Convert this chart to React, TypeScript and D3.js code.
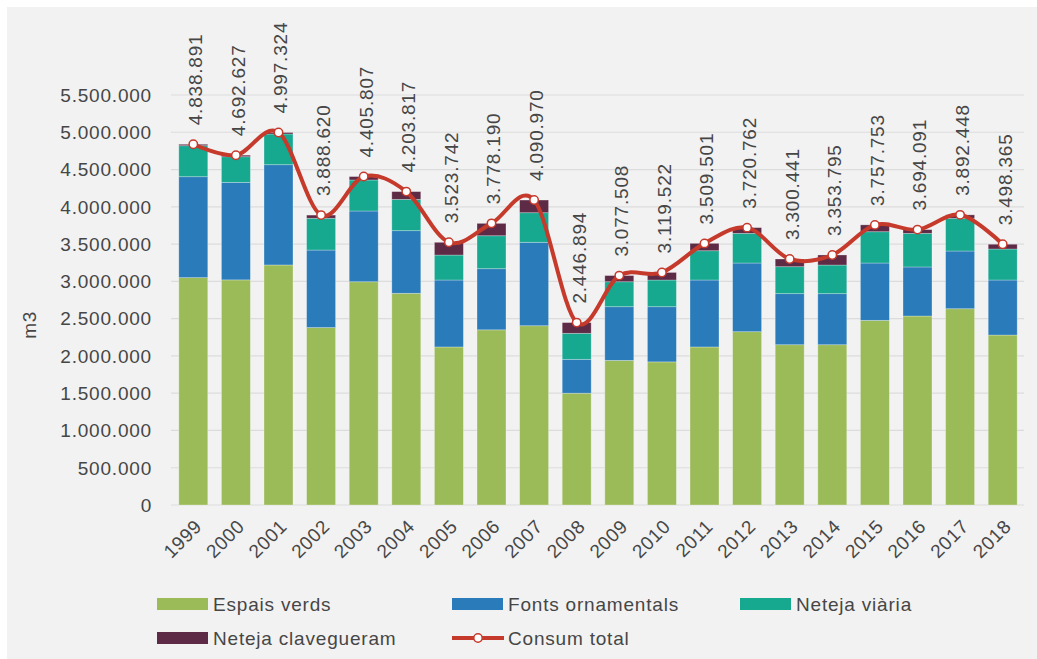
import React from "react";
import * as d3 from "d3";

// consum d'aigua freàtica per usos (m3)
const years = ["1999", "2000", "2001", "2002", "2003", "2004", "2005", "2006", "2007", "2008",
  "2009", "2010", "2011", "2012", "2013", "2014", "2015", "2016", "2017", "2018"];

const espaisVerds = [3050000, 3020000, 3220000, 2380000, 2995000, 2840000, 2120000, 2350000, 2405000, 1500000,
  1940000, 1920000, 2120000, 2325000, 2150000, 2150000, 2477000, 2535000, 2633000, 2280000];
const fontsOrnamentals = [1354000, 1308000, 1345000, 1040000, 949000, 840000, 898000, 820000, 1119000, 454000,
  720000, 740000, 898000, 921000, 685000, 685000, 769000, 658000, 774000, 738000];
const netejaViaria = [416000, 344000, 412000, 426000, 416000, 420000, 335000, 442000, 397000, 349000,
  335000, 358000, 393000, 398000, 362000, 384000, 420000, 451000, 439000, 416000];
const netejaClavegueram = [19000, 21000, 20000, 43000, 46000, 104000, 171000, 166000, 170000, 144000,
  83000, 102000, 99000, 77000, 103000, 135000, 92000, 50000, 46000, 64000];
const consumTotal = [4838891, 4692627, 4997324, 3888620, 4405807, 4203817, 3523742, 3778190, 4090970, 2446894,
  3077508, 3119522, 3509501, 3720762, 3300441, 3353795, 3757753, 3694091, 3892448, 3498365];

const yTicks = [0, 500000, 1000000, 1500000, 2000000, 2500000, 3000000, 3500000, 4000000, 4500000, 5000000, 5500000];

const series = [
  { name: "Espais verds", values: espaisVerds, color: "#9bbb59" },
  { name: "Fonts ornamentals", values: fontsOrnamentals, color: "#2a7bba" },
  { name: "Neteja viària", values: netejaViaria, color: "#17a890" },
  { name: "Neteja clavegueram", values: netejaClavegueram, color: "#5e2b46" },
];

const FONT = "'Liberation Sans', Arial, sans-serif";
const TEXT = "#464646";
const LINE = "#c63a2c";

const locale = d3.formatLocale({ decimal: ",", thousands: ".", grouping: [3], currency: ["", ""] });
const fmt = locale.format(",d");

export default function App() {
  const width = 1037;
  const height = 659;

  const x = d3.scaleBand<string>().domain(years).range([172, 1024]).paddingInner(0.32).paddingOuter(0.16);
  const y = d3.scaleLinear().domain([0, 5500000]).range([505, 95]);

  const rows = years.map((yr, i) => {
    const obj: Record<string, number | string> = { year: yr };
    series.forEach((s) => (obj[s.name] = s.values[i]));
    return obj;
  });
  const stacked = d3.stack<any>().keys(series.map((s) => s.name))(rows);

  const cx = (yr: string) => (x(yr) as number) + x.bandwidth() / 2;
  const line = d3
    .line<number>()
    .x((_, i) => cx(years[i]))
    .y((d) => y(d))
    .curve(d3.curveCardinal.tension(0));

  const legend = [
    { name: "Espais verds", color: series[0].color, type: "rect", lx: 157, ly: 604 },
    { name: "Fonts ornamentals", color: series[1].color, type: "rect", lx: 452, ly: 604 },
    { name: "Neteja viària", color: series[2].color, type: "rect", lx: 740, ly: 604 },
    { name: "Neteja clavegueram", color: series[3].color, type: "rect", lx: 157, ly: 638 },
    { name: "Consum total", color: LINE, type: "line", lx: 452, ly: 638 },
  ];

  return (
    <div style={{ position: "absolute", left: 0, top: 0 }}>
      <svg width={width} height={height} style={{ display: "block", fontFamily: FONT }}>
        <rect x={0} y={0} width={width} height={height} fill="#ffffff" />
        <rect x={7} y={7} width={width - 7} height={height - 7} fill="#f2f2f2" />

        {/* grid */}
        {yTicks.map((t) => (
          <g key={t}>
            <line x1={171} x2={1024} y1={y(t)} y2={y(t)} stroke="#dcdcdc" strokeWidth={1.2} />
            <text x={152} y={y(t)} dy="0.36em" textAnchor="end" fontSize={19} letterSpacing={0.8} fill={TEXT}>
              {fmt(t)}
            </text>
          </g>
        ))}

        <text transform="translate(36,325) rotate(-90)" textAnchor="middle" fontSize={19} letterSpacing={0.6} fill={TEXT}>
          m3
        </text>

        {/* bars */}
        {stacked.map((layer, si) => (
          <g key={layer.key} fill={series[si].color}>
            {layer.map((d, i) => (
              <rect
                key={years[i]}
                x={x(years[i])}
                y={y(d[1])}
                width={x.bandwidth()}
                height={Math.max(0, y(d[0]) - y(d[1]))}
                stroke="rgba(255,255,255,0.35)"
                strokeWidth={0.8}
              />
            ))}
          </g>
        ))}

        {/* x labels */}
        {years.map((yr) => (
          <text
            key={yr}
            transform={`translate(${cx(yr) + 5},${523}) rotate(-45)`}
            textAnchor="end"
            dy="0.35em"
            fontSize={19}
            letterSpacing={0.6}
            fill={TEXT}
          >
            {yr}
          </text>
        ))}

        {/* total line */}
        <path d={line(consumTotal) || ""} fill="none" stroke={LINE} strokeWidth={4} strokeLinejoin="round" />
        {consumTotal.map((v, i) => (
          <circle key={i} cx={cx(years[i])} cy={y(v)} r={4.2} fill="#ffffff" stroke={LINE} strokeWidth={1.5} />
        ))}
        {consumTotal.map((v, i) => (
          <text
            key={"l" + i}
            transform={`translate(${cx(years[i]) + 2},${y(v) - 19}) rotate(-90)`}
            dy="0.36em"
            textAnchor="start"
            fontSize={19}
            letterSpacing={0.8}
            fill={TEXT}
          >
            {fmt(v)}
          </text>
        ))}

        {/* legend */}
        {legend.map((l) => (
          <g key={l.name}>
            {l.type === "rect" ? (
              <rect x={l.lx} y={l.ly - 6} width={51} height={12} fill={l.color} />
            ) : (
              <g>
                <line x1={l.lx} x2={l.lx + 52} y1={l.ly} y2={l.ly} stroke={l.color} strokeWidth={4} />
                <circle cx={l.lx + 26} cy={l.ly} r={4.2} fill="#ffffff" stroke={l.color} strokeWidth={1.5} />
              </g>
            )}
            <text x={l.lx + 56} y={l.ly} dy="0.36em" fontSize={19} letterSpacing={0.8} fill={TEXT}>
              {l.name}
            </text>
          </g>
        ))}
      </svg>
    </div>
  );
}
